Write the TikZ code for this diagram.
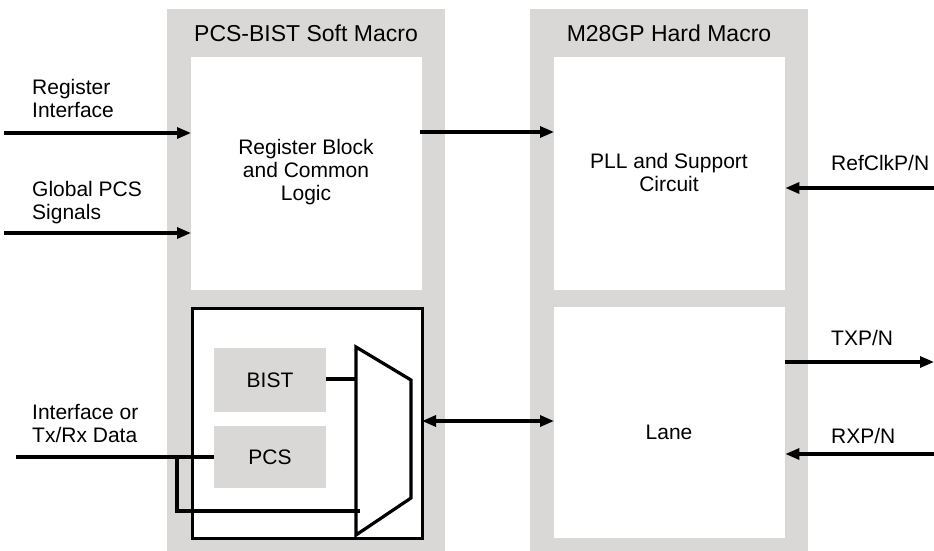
\documentclass[tikz,border=0pt]{standalone}
\usepackage{fontspec}
\setmainfont{Liberation Sans}
\usetikzlibrary{arrows.meta}
\definecolor{panelgray}{RGB}{217,216,214}
\tikzset{
  lbl/.style={font=\fontsize{21}{23}\selectfont, inner sep=0pt},
  ttl/.style={font=\fontsize{23}{25}\selectfont, inner sep=0pt},
  panel/.style={fill=panelgray, draw=none, anchor=north west, inner sep=0pt},
  wbox/.style={fill=white, draw=none, anchor=north west, inner sep=0pt, align=center},
  gbox/.style={fill=panelgray, draw=none, anchor=north west, inner sep=0pt, align=center},
  thick3/.style={line width=3.2pt},
  arr/.style={line width=3.2pt, -{Triangle[length=14pt,width=11pt]}},
  darr/.style={line width=3.2pt, {Triangle[length=14pt,width=11pt]}-{Triangle[length=14pt,width=11pt]}},
}
\begin{document}
\begin{tikzpicture}[x=1pt,y=-1pt]
\useasboundingbox (0,0) rectangle (934,551);
% panels
\node[panel, minimum width=278pt, minimum height=542pt] (lp) at (167,9) {};
\node[panel, minimum width=278pt, minimum height=542pt] (rp) at (530,9) {};
\node[ttl] (lt) at (306,33) {PCS-BIST Soft Macro};
\node[ttl] (rt) at (669,33) {M28GP Hard Macro};
% white boxes
\node[wbox, minimum width=231pt, minimum height=233pt] (reg) at (191,57) {};
\node[lbl, align=center] (regt) at (306,172) {Register Block\\and Common\\Logic};
\node[wbox, minimum width=231pt, minimum height=233pt] (pll) at (554,57) {};
\node[lbl, align=center] (pllt) at (669,172) {PLL and Support\\Circuit};
\node[wbox, minimum width=231pt, minimum height=231pt] (lane) at (554,307) {};
\node[lbl] (lanet) at (669,432) {Lane};
\node[wbox, draw=black, line width=3.2pt, minimum width=230pt, minimum height=230pt] (bb) at (191,307) {};
% inner boxes
\node[gbox, minimum width=112pt, minimum height=64pt] (bist) at (214,348) {};
\node[lbl] (bistt) at (270,380) {BIST};
\node[gbox, minimum width=112pt, minimum height=62pt] (pcs) at (214,426) {};
\node[lbl] (pcst) at (270,457) {PCS};
% mux
\coordinate (m1) at (356,347);
\coordinate (m2) at (411,380);
\coordinate (m3) at (411,498);
\coordinate (m4) at (356,535);
\draw[thick3, line join=miter, fill=white] (m1) -- (m2) -- (m3) -- (m4) -- cycle;
\draw[thick3] (bist.east |- 0,379) -- (m1 |- 0,379);
% PCS input
\coordinate (pin) at (16,457);
\coordinate (br) at (177,457);
\coordinate (brd) at (177,511);
\coordinate (bre) at (360,511);
\draw[thick3] (pin) -- (pcs.west |- pin);
\draw[thick3] (br) -- (brd) -- (bre);
\node[lbl, align=left, anchor=west] (ifl) at (32,423.5) {Interface or\\Tx/Rx Data};
% left inputs
\node[lbl, align=left, anchor=west] (ril) at (32,98.5) {Register\\Interface};
\coordinate (ri) at (4,133);
\draw[arr] (ri) -- (ri -| reg.west);
\node[lbl, align=left, anchor=west] (gpl) at (32,202.5) {Global PCS\\Signals};
\coordinate (gp) at (4,233);
\draw[arr] (gp) -- (gp -| reg.west);
% middle arrows
\coordinate (ma) at (420,132);
\draw[arr] (ma) -- (ma -| pll.west);
\coordinate (da) at (422,421);
\draw[darr] (da) -- (da -| lane.west);
% right side
\node[lbl, anchor=west] (rcl) at (831,163) {RefClkP/N};
\coordinate (rc) at (934,188);
\draw[arr] (rc) -- (rc -| pll.east);
\node[lbl, anchor=west] (txl) at (831,338) {TXP/N};
\coordinate (tx) at (934,362);
\draw[arr] (tx -| lane.east) -- (tx);
\node[lbl, anchor=west] (rxl) at (831,436) {RXP/N};
\coordinate (rx) at (934,454);
\draw[arr] (rx) -- (rx -| lane.east);
\end{tikzpicture}
\end{document}
